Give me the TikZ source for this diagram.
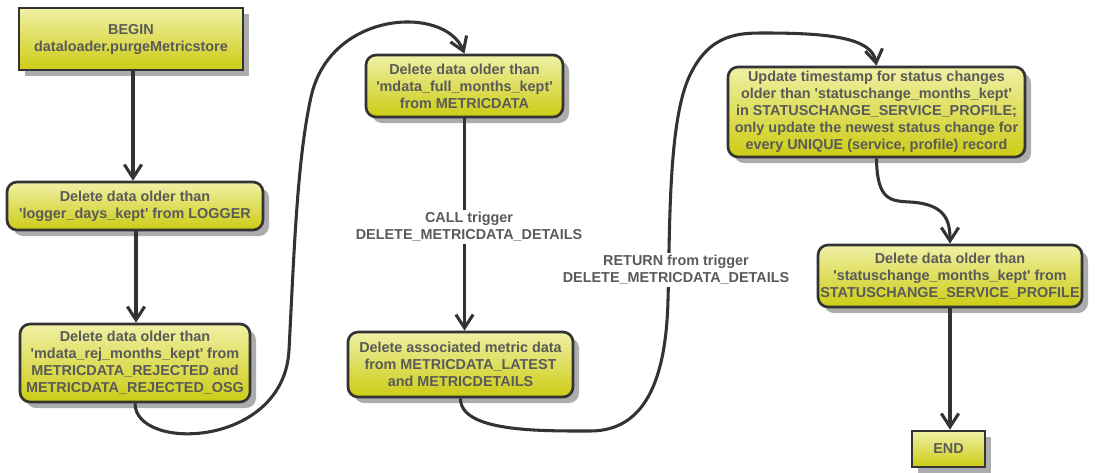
\documentclass[tikz,border=0pt]{standalone}
\usepackage{fontspec}
\setmainfont{Liberation Sans}
\usetikzlibrary{arrows.meta,shadows}
\definecolor{edgegray}{HTML}{333333}
\definecolor{textgray}{HTML}{5A5A5A}
\definecolor{filltop}{HTML}{F0F0A6}
\definecolor{fillbot}{HTML}{CCCC14}
\definecolor{shadowgray}{HTML}{ACACAC}
% straight single quote
\newcommand{\sq}{\textquotesingle}
\tikzset{
  basebox/.style={draw=edgegray, line width=2pt, top color=filltop, bottom color=fillbot,
    text=textgray, align=center, inner sep=1pt,
    font=\bfseries\fontsize{10.8}{12.75}\selectfont,
    drop shadow={shadow xshift=4.5pt, shadow yshift=-4.5pt, fill=shadowgray, opacity=1}},
  actbox/.style={basebox, rounded corners=7.5pt},
  termbox/.style={basebox},
  flow/.style={draw=edgegray, line width=2.3pt, -{Straight Barb[length=10pt,width=13pt,line width=2.3pt]}},
  flowlabel/.style={fill=white, text=textgray, align=center, inner sep=1.5pt,
    font=\bfseries\fontsize{10.8}{12.75}\selectfont}
}
\begin{document}
\begin{tikzpicture}[x=0.75pt,y=-0.75pt]
\useasboundingbox (0,0) rectangle (1096,472);

% first column
\node[termbox, minimum width=168pt, minimum height=46.5pt] (begin) at (131,39)
  {BEGIN\\dataloader.purgeMetricstore};
\node[actbox, minimum width=192pt, minimum height=36pt] (logger) at (135,206)
  {Delete data older than\\\sq logger\_days\_kept\sq{} from LOGGER};
\node[actbox, minimum width=172.5pt, minimum height=58.5pt] (rej) at (135,363)
  {Delete data older than\\\sq mdata\_rej\_months\_kept\sq{} from\\METRICDATA\_REJECTED and\\METRICDATA\_REJECTED\_OSG};

% second column
\node[actbox, minimum width=147.75pt, minimum height=46.5pt] (full) at (464.5,86)
  {Delete data older than\\\sq mdata\_full\_months\_kept\sq\\from METRICDATA};
\node[actbox, minimum width=168.75pt, minimum height=48.75pt] (assoc) at (460.5,364.5)
  {Delete associated metric data\\from METRICDATA\_LATEST\\and METRICDETAILS};

% third column
\node[actbox, minimum width=222.75pt, minimum height=67.5pt] (upd) at (876.5,112)
  {Update timestamp for status changes\\older than \sq statuschange\_months\_kept\sq\\in STATUSCHANGE\_SERVICE\_PROFILE;\\only update the newest status change for\\every UNIQUE (service, profile) record};
\node[actbox, minimum width=198pt, minimum height=46.5pt] (stat) at (950,276)
  {Delete data older than\\\sq statuschange\_months\_kept\sq{} from\\STATUSCHANGE\_SERVICE\_PROFILE};
\node[termbox, minimum width=54.75pt, minimum height=27pt] (end) at (948.5,449) {END};

% connectors
\draw[flow] (begin.south -| 133,0) -- (logger.north -| 133,0);
\draw[flow] (logger.south -| 136,0) -- (rej.north -| 136,0);
\draw[flow] (rej.south) .. controls (135,452) and (284,448) .. (289,350)
  .. controls (294,255) and (297,160) .. (311,97)
  .. controls (330,10) and (445,5) .. (full.north);
\draw[flow] (full.south) -- (assoc.north -| full.south);
\draw[flow] (assoc.south) .. controls (460,432) and (540,431) .. (590,431)
  .. controls (645,431) and (666,380) .. (668,300)
  .. controls (670,230) and (668,120) .. (690,75)
  .. controls (710,33) and (740,33) .. (765,33)
  .. controls (830,33) and (872,38) .. (upd.north);
\draw[flow] (upd.south) .. controls (877,200) and (890,201) .. (910,202)
  .. controls (945,204) and (950,220) .. (stat.north);
\draw[flow] (stat.south) -- (end.north -| stat.south);

% connector labels
\node[flowlabel] (calllbl) at (469,227) {CALL trigger\\DELETE\_METRICDATA\_DETAILS};
\node[flowlabel] (retlbl) at (676,270) {RETURN from trigger\\DELETE\_METRICDATA\_DETAILS};
\end{tikzpicture}
\end{document}
